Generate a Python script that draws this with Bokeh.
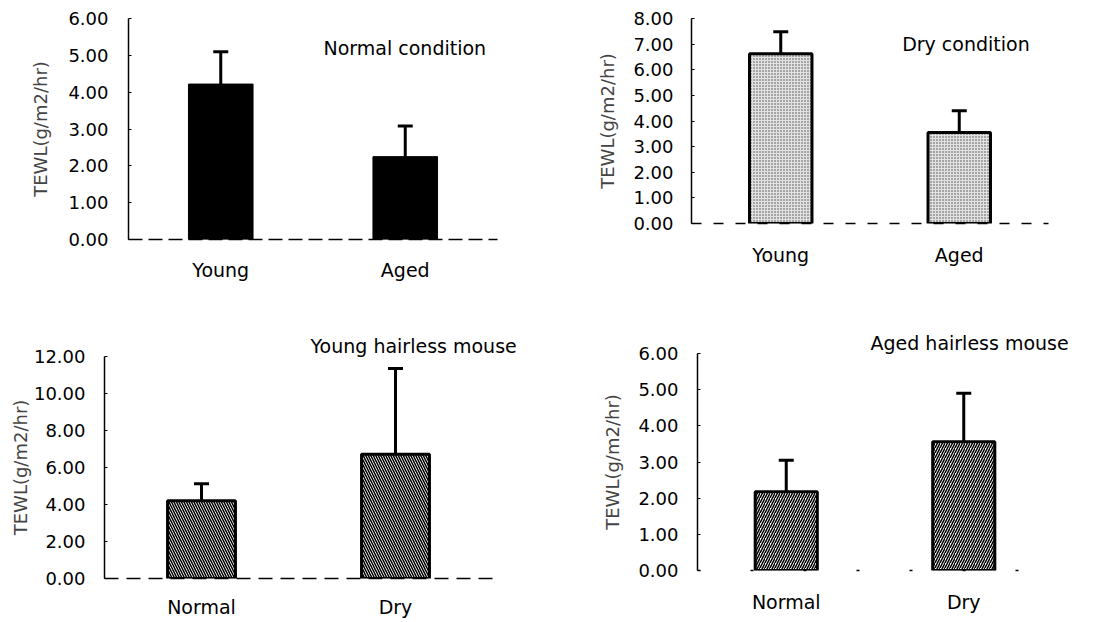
from bokeh.plotting import figure
from bokeh.layouts import column, row
from bokeh.models import (FactorRange, Range1d, Whisker, TeeHead, ColumnDataSource,
                          FixedTicker, PrintfTickFormatter, Label, Title)
from bokeh.embed import file_html
from bokeh.resources import INLINE

FONT = "DejaVu Sans"
YLABEL = "TEWL(g/m2/hr)"

# ---- data ----
nc_cats = ["Young", "Aged"]
nc_mean = [4.22, 2.25]
nc_sd = [0.88, 0.83]
nc_ticks = [0, 1, 2, 3, 4, 5, 6]
nc_title = "Normal condition"

dc_cats = ["Young", "Aged"]
dc_mean = [6.62, 3.55]
dc_sd = [0.86, 0.85]
dc_ticks = [0, 1, 2, 3, 4, 5, 6, 7, 8]
dc_title = "Dry condition"

yh_cats = ["Normal", "Dry"]
yh_mean = [4.20, 6.72]
yh_sd = [0.92, 4.63]
yh_ticks = [0, 2, 4, 6, 8, 10, 12]
yh_title = "Young hairless mouse"

ah_cats = ["Normal", "Dry"]
ah_mean = [2.18, 3.56]
ah_sd = [0.87, 1.34]
ah_ticks = [0, 1, 2, 3, 4, 5, 6]
ah_title = "Aged hairless mouse"


def panel(cats, mean, sd, ticks, width, height, borders,
          ytick_sd, ylab_sd, xlab_sd, bar_style, xdash):
    l, r, t, b = borders
    p = figure(x_range=FactorRange(*cats, range_padding=0, factor_padding=0),
               y_range=Range1d(ticks[0], ticks[-1]),
               width=width, height=height,
               min_border_left=l, min_border_right=r,
               min_border_top=t, min_border_bottom=b,
               toolbar_location=None, output_backend="svg")
    p.background_fill_color = "white"
    p.border_fill_color = "white"
    p.outline_line_color = None
    p.xgrid.visible = False
    p.ygrid.visible = False

    p.vbar(x=cats, top=mean, width=0.35, bottom=0, **bar_style)

    src = ColumnDataSource(dict(x=cats, lower=mean,
                                upper=[m + s for m, s in zip(mean, sd)]))
    w = Whisker(source=src, base="x", upper="upper", lower="lower",
                line_width=3, line_color="black",
                upper_head=TeeHead(size=15, line_width=3, line_color="black"),
                lower_head=None)
    p.add_layout(w)

    ya = p.yaxis[0]
    ya.ticker = FixedTicker(ticks=ticks)
    ya.formatter = PrintfTickFormatter(format="%.2f")
    ya.major_tick_out = 0
    ya.major_tick_in = 3
    ya.minor_tick_out = 0
    ya.minor_tick_in = 0
    ya.axis_line_width = 1.5
    ya.major_label_standoff = ytick_sd
    ya.major_label_text_font = FONT
    ya.major_label_text_font_size = "18px"
    ya.major_label_text_color = "black"
    ya.axis_label = YLABEL
    ya.axis_label_text_font = FONT
    ya.axis_label_text_font_size = "18px"
    ya.axis_label_text_font_style = "normal"
    ya.axis_label_standoff = ylab_sd

    xa = p.xaxis[0]
    xa.major_tick_out = 0
    xa.major_tick_in = 0
    xa.axis_line_width = 1.5
    xa.axis_line_dash = xdash
    xa.major_label_standoff = xlab_sd
    xa.major_label_text_font = FONT
    xa.major_label_text_font_size = "19px"
    xa.major_label_text_color = "black"
    return p


def inner_title(p, text, tx, ty):
    p.add_layout(Label(x=tx, y=ty, text=text, text_font=FONT,
                       text_font_size="19px", text_align="left",
                       text_baseline="middle", text_color="black"))


def top_title(p, text, offset):
    p.add_layout(Title(text=text, align="left", offset=offset, standoff=0,
                       text_font=FONT, text_font_size="19px",
                       text_font_style="normal", text_color="black"), "above")


solid = dict(fill_color="black", line_color="black", line_width=1)
dotted = dict(fill_color="#e2e2e2", line_color="black", line_width=3,
              hatch_pattern="dot", hatch_scale=3, hatch_weight=1,
              hatch_color="#444444")
back = dict(fill_color="white", line_color="black", line_width=3,
            hatch_pattern="left_diagonal_line", hatch_scale=5, hatch_weight=1.5,
            hatch_color="black")
fwd = dict(fill_color="white", line_color="black", line_width=3,
           hatch_pattern="right_diagonal_line", hatch_scale=5, hatch_weight=1.5,
           hatch_color="black")

p1 = panel(nc_cats, nc_mean, nc_sd, nc_ticks, 560, 308, (128, 63, 18, 69),
           20, 14, 19, solid, "14 6")
inner_title(p1, nc_title, 1.057, 5.21)

p2 = panel(dc_cats, dc_mean, dc_sd, dc_ticks, 540, 308, (131, 52, 18, 85),
           18, 12, 20, dotted, "10 12")
inner_title(p2, dc_title, 1.18, 6.99)

p3 = panel(yh_cats, yh_mean, yh_sd, yh_ticks, 560, 312, (104, 68, 48, 41),
           19, 0, 17, back, "14 8")
top_title(p3, yh_title, 206)

p4 = panel(ah_cats, ah_mean, ah_sd, ah_ticks, 540, 312, (137, 48, 45, 50),
           19, 12, 20, fwd, "3 50")
top_title(p4, ah_title, 173)

layout = column(row(column(p1), column(p2)), row(column(p3), column(p4)))
open("out.html", "w").write(file_html(layout, INLINE))
